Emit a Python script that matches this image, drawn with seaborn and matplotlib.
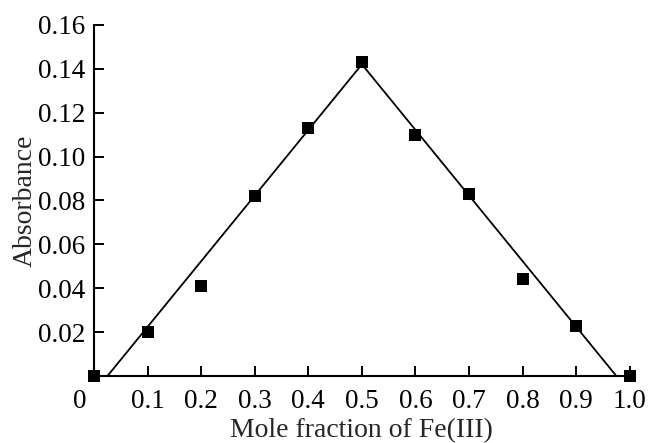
import matplotlib
matplotlib.use("Agg")
import matplotlib.pyplot as plt
import matplotlib.transforms as mtransforms
import seaborn as sns
import pandas as pd

mole_fraction = [0.0, 0.1, 0.2, 0.3, 0.4, 0.5, 0.6, 0.7, 0.8, 0.9, 1.0]
absorbance = [0.000, 0.020, 0.041, 0.082, 0.113, 0.143, 0.110, 0.083, 0.044, 0.023, 0.000]
fit_x = [0.025, 0.5, 0.975]
fit_y = [0.0, 0.142, 0.0]
x_ticks = [0.0, 0.1, 0.2, 0.3, 0.4, 0.5, 0.6, 0.7, 0.8, 0.9, 1.0]
x_tick_labels = ["0", "0.1", "0.2", "0.3", "0.4", "0.5", "0.6", "0.7", "0.8", "0.9", "1.0"]
y_ticks = [0.02, 0.04, 0.06, 0.08, 0.10, 0.12, 0.14, 0.16]
y_tick_labels = ["0.02", "0.04", "0.06", "0.08", "0.10", "0.12", "0.14", "0.16"]

sns.set_style("ticks")
plt.rcParams["font.family"] = ["Liberation Serif", "DejaVu Serif"]

fig = plt.figure(figsize=(6.48, 4.43), dpi=100)
ax = fig.add_axes([0.145, 0.151, 0.827, 0.793])

pts = pd.DataFrame({"x": mole_fraction, "y": absorbance})
fit = pd.DataFrame({"x": fit_x, "y": fit_y})

sns.lineplot(data=fit, x="x", y="y", ax=ax, color="black", linewidth=1.3,
             sort=False, estimator=None, zorder=2)
sns.scatterplot(data=pts, x="x", y="y", ax=ax, marker="s", s=85, color="black",
                edgecolor="black", linewidth=0, zorder=3, clip_on=False)

ax.set_xlim(0, 1.0)
ax.set_ylim(0, 0.16)
ax.set_xticks(x_ticks)
ax.set_xticklabels(x_tick_labels)
ax.set_yticks(y_ticks)
ax.set_yticklabels(y_tick_labels)
ax.set_xlabel("Mole fraction of Fe(III)", fontsize=20, labelpad=3)
ax.set_ylabel("Absorbance", fontsize=20, labelpad=0)
ax.tick_params(direction="in", length=7, width=1.4, labelsize=19.5, colors="black")
ax.tick_params(axis="x", pad=9)
ax.tick_params(axis="y", pad=6.5)
for side in ["top", "right"]:
    ax.spines[side].set_visible(False)
for side in ["left", "bottom"]:
    ax.spines[side].set_linewidth(1.5)
    ax.spines[side].set_color("black")

lbl0 = ax.get_xticklabels()[0]
lbl0.set_transform(lbl0.get_transform() + mtransforms.ScaledTranslation(-10 / 72, 0, fig.dpi_scale_trans))

fig.savefig("out.png", dpi=100)
